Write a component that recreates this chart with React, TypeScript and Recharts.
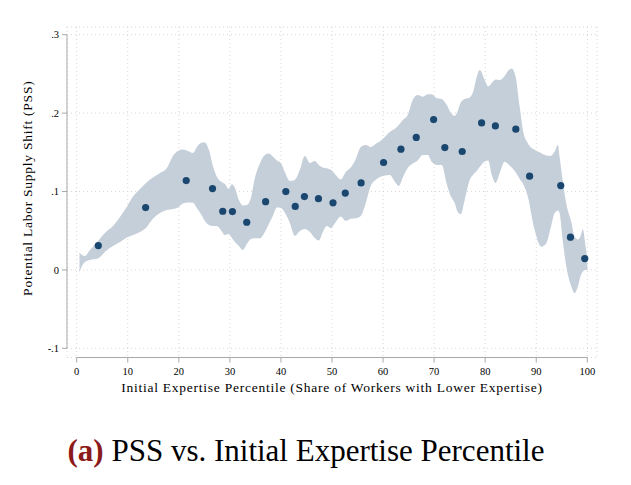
import React from "react";
import {
  ComposedChart,
  Area,
  Scatter,
  XAxis,
  YAxis,
  CartesianGrid,
  ReferenceLine,
} from "recharts";

// ---- data -----------------------------------------------------------
const pointX = [4.23, 13.5, 21.45, 26.6, 28.6, 30.5, 33.3, 37.0, 40.96, 42.8, 44.6, 47.35, 50.2, 52.6, 55.7, 60.1, 63.5, 66.5, 69.9, 72.1, 75.5, 79.3, 82.0, 86.0, 88.7, 94.8, 96.7, 99.5];
const pointY = [0.031, 0.0795, 0.114, 0.1037, 0.0748, 0.0744, 0.0608, 0.087, 0.0999, 0.081, 0.0935, 0.0908, 0.0855, 0.098, 0.111, 0.137, 0.154, 0.169, 0.1917, 0.156, 0.151, 0.1875, 0.1837, 0.1795, 0.1195, 0.1075, 0.0417, 0.0145];

const bandX = [
  0.55, 1.04, 1.62, 2.6, 4.17, 5.73, 7.1, 8.47, 9.84, 11.02,
  12.39, 13.56, 14.93, 16.3, 17.67, 18.85, 19.82, 20.8, 21.78, 22.76,
  23.54, 24.32, 25.11, 25.89, 26.67, 27.46, 28.24, 29.02, 29.8, 30.39,
  30.98, 31.76, 32.54, 33.33, 34.11, 34.89, 35.87, 36.85, 37.63, 38.41,
  39.2, 39.98, 40.76, 41.74, 42.72, 43.7, 44.68, 45.66, 46.63, 47.42,
  48.2, 48.98, 49.77, 50.74, 51.72, 52.7, 53.68, 54.66, 55.64, 56.61,
  57.59, 58.77, 59.94, 61.31, 62.49, 63.07, 63.86, 64.83, 65.81, 66.79,
  67.77, 68.79, 69.53, 70.51, 71.49, 72.47, 73.25, 74.03, 74.62, 75.21,
  75.99, 76.97, 77.75, 78.34, 78.92, 79.9, 80.59, 81.27, 82.05, 82.84,
  83.82, 84.6, 85.19, 85.97, 86.75, 87.44, 88.32, 89.69, 91.0, 91.98,
  92.82, 93.6, 94.25, 94.58, 95.17, 95.89, 96.87, 97.52, 98.16, 98.69,
  99.14, 99.67, 100,
];
const bandUpper = [
  0.0223, 0.0191, 0.0179, 0.0255, 0.037, 0.0485, 0.0561, 0.0676, 0.0807, 0.0935,
  0.1033, 0.111, 0.118, 0.1237, 0.1301, 0.1454, 0.1518, 0.1537, 0.1518, 0.1492,
  0.1569, 0.162, 0.1626, 0.1531, 0.1327, 0.1186, 0.1129, 0.1097, 0.1033, 0.1091,
  0.1046, 0.0893, 0.0823, 0.0829, 0.0918, 0.1173, 0.1358, 0.1467, 0.1486, 0.1448,
  0.1397, 0.1365, 0.125, 0.1135, 0.1148, 0.1276, 0.1454, 0.1365, 0.139, 0.1339,
  0.1307, 0.1297, 0.1276, 0.1212, 0.1154, 0.125, 0.1307, 0.1416, 0.1569, 0.1594,
  0.1569, 0.1614, 0.1671, 0.176, 0.1811, 0.1849, 0.1913, 0.1977, 0.2168, 0.2232,
  0.221, 0.2239, 0.2239, 0.219, 0.2181, 0.2105, 0.2003, 0.1964, 0.2028, 0.2136,
  0.2181, 0.22, 0.2296, 0.2462, 0.2551, 0.2423, 0.2341, 0.2385, 0.243, 0.2423,
  0.2474, 0.2551, 0.257, 0.2462, 0.2083, 0.1764, 0.162, 0.1531, 0.1489, 0.146,
  0.1454, 0.1509, 0.1594, 0.1441, 0.1148, 0.0842, 0.0612, 0.0425, 0.0389, 0.0434,
  0.0519, 0.0297, 0.0153,
];
const bandLower = [
  -0.0032, 0.0051, 0.0102, 0.0128, 0.0147, 0.0242, 0.0306, 0.0357, 0.0415, 0.0446,
  0.0485, 0.0536, 0.0651, 0.0727, 0.0765, 0.0778, 0.0797, 0.0848, 0.0861, 0.0858,
  0.0791, 0.0714, 0.0625, 0.0574, 0.0561, 0.0561, 0.051, 0.0446, 0.0459, 0.0408,
  0.0357, 0.0306, 0.0255, 0.0332, 0.0395, 0.0404, 0.0404, 0.0485, 0.0587, 0.0689,
  0.0797, 0.0791, 0.0733, 0.0599, 0.0434, 0.0497, 0.0523, 0.0485, 0.0408, 0.0376,
  0.0485, 0.0561, 0.0536, 0.0612, 0.0682, 0.0625, 0.0651, 0.0659, 0.0689, 0.0855,
  0.1071, 0.1161, 0.1199, 0.1212, 0.111, 0.1071, 0.118, 0.1301, 0.1358, 0.1397,
  0.1467, 0.1467, 0.1378, 0.1339, 0.1339, 0.1097, 0.0944, 0.0855, 0.074, 0.0714,
  0.0893, 0.1148, 0.1224, 0.1263, 0.1314, 0.1384, 0.1397, 0.1218, 0.111, 0.1233,
  0.1381, 0.1346, 0.1307, 0.1244, 0.1161, 0.1097, 0.0944, 0.051, 0.0297, 0.0341,
  0.0536, 0.0727, 0.0759, 0.0723, 0.0383, 0.0042, -0.0213, -0.0297, -0.0213, -0.0077,
  -0.0019, 0, 0,
];

const xTicks = [0, 10, 20, 30, 40, 50, 60, 70, 80, 90, 100];
const yTicks = [-0.1, 0, 0.1, 0.2, 0.3];

const xTitle = "Initial Expertise Percentile (Share of Workers with Lower Expertise)";
const yTitle = "Potential Labor Supply Shift (PSS)";
const captionTag = "(a)";
const captionText = " PSS vs. Initial Expertise Percentile";

// ---- derived tables ---------------------------------------------------
const bandData = bandX.map((x, i) => ({ x, range: [bandLower[i], bandUpper[i]] }));
const pointData = pointX.map((x, i) => ({ x, y: pointY[i] }));

const X_MIN = -1.9;
const X_MAX = 101.9;
const Y_MIN = -0.1117;
const Y_MAX = 0.3098;

const AXIS_COLOR = "#a8a8a8";
const GRID_COLOR = "#d6d6d6";
const NAVY = "#1a476f";
const BAND = "#c5cfda";
const FONT = "'Liberation Serif', 'Times New Roman', serif";

const fmtY = (v: number) => {
  if (v === 0) return "0";
  const s = String(Math.abs(Math.round(v * 10) / 10)).replace(/^0/, "");
  return (v < 0 ? "-" : "") + s;
};

const Dot = (props: any) => {
  const { cx, cy } = props;
  if (cx == null || cy == null) return null;
  return <circle cx={cx} cy={cy} r={3.6} fill={NAVY} />;
};

const XTitle = (props: any) => {
  const vb = props.viewBox || {};
  return (
    <text
      x={vb.x + vb.width / 2}
      y={vb.y + 34.5}
      textAnchor="middle"
      fontFamily={FONT}
      fontSize={13.5}
      letterSpacing={0.75}
      fill="#000"
    >
      {xTitle}
    </text>
  );
};

const YTitle = (props: any) => {
  const vb = props.viewBox || {};
  const cx = 27.5;
  const cy = vb.y + vb.height / 2 - 4;
  return (
    <text
      x={cx}
      y={cy}
      transform={`rotate(-90 ${cx} ${cy})`}
      textAnchor="middle"
      dominantBaseline="central"
      fontFamily={FONT}
      fontSize={13.5}
      letterSpacing={0.75}
      fill="#000"
    >
      {yTitle}
    </text>
  );
};

export default function App() {
  return (
    <div
      style={{
        position: "absolute",
        left: 0,
        top: 0,
        width: 631,
        height: 485,
        background: "#fff",
        overflow: "hidden",
      }}
    >
      <ComposedChart
        width={631}
        height={400}
        data={bandData}
        margin={{ top: 27, right: 34, bottom: 0, left: 0 }}
      >
        <CartesianGrid
          stroke={GRID_COLOR}
          strokeDasharray="1 3"
          strokeWidth={1}
        />
        <XAxis
          dataKey="x"
          type="number"
          domain={[X_MIN, X_MAX]}
          allowDataOverflow
          ticks={xTicks}
          interval={0}
          height={42.5}
          axisLine={false}
          tickLine={{ stroke: AXIS_COLOR }}
          tickSize={5}
          tickMargin={5}
          tick={{ fill: "#000", fontSize: 10.5, fontFamily: FONT }}
          label={<XTitle />}
        />
        <YAxis
          type="number"
          domain={[Y_MIN, Y_MAX]}
          allowDataOverflow
          ticks={yTicks}
          interval={0}
          width={67}
          axisLine={false}
          tickLine={{ stroke: AXIS_COLOR }}
          tickSize={5}
          tickMargin={3}
          tickFormatter={fmtY}
          tick={{ fill: "#000", fontSize: 10.5, fontFamily: FONT }}
          label={<YTitle />}
        />
        <Area
          dataKey="range"
          type="monotone"
          stroke="none"
          fill={BAND}
          fillOpacity={1}
          isAnimationActive={false}
          activeDot={false}
          dot={false}
        />
        <Scatter
          data={pointData}
          dataKey="y"
          shape={<Dot />}
          isAnimationActive={false}
        />
        <ReferenceLine
          segment={[
            { x: 0, y: Y_MIN },
            { x: 100, y: Y_MIN },
          ]}
          stroke={AXIS_COLOR}
          strokeWidth={1}
          ifOverflow="visible"
        />
        <ReferenceLine
          segment={[
            { x: X_MIN, y: -0.1 },
            { x: X_MIN, y: 0.3 },
          ]}
          stroke={AXIS_COLOR}
          strokeWidth={1}
          ifOverflow="visible"
        />
      </ComposedChart>
      <div
        style={{
          position: "absolute",
          left: 0,
          top: 436,
          width: 612,
          textAlign: "center",
          fontFamily: FONT,
          fontSize: 31,
          lineHeight: "30px",
          color: "#000",
          whiteSpace: "nowrap",
        }}
      >
        <span style={{ color: "#8b1a1a", fontWeight: "bold" }}>{captionTag}</span>
        <span>{captionText}</span>
      </div>
    </div>
  );
}
